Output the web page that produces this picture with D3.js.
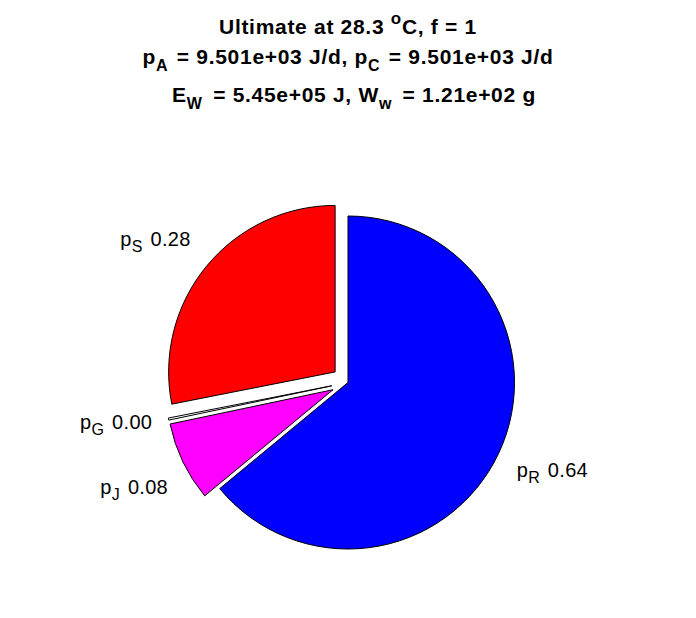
<!DOCTYPE html>
<html>
<head>
<meta charset="utf-8">
<script src="https://cdn.jsdelivr.net/npm/d3@7"></script>
<style>
  html, body { margin: 0; padding: 0; background: #fff; }
  svg { display: block; font-family: "Liberation Sans", Arial, Helvetica, sans-serif; }
</style>
</head>
<body>
<svg id="chart" width="696" height="618"></svg>
<script>
// ---- data ----
const sliceNames = ["R", "J", "G", "S"];
const sliceValues = [0.64, 0.077, 0.002, 0.281];
const sliceColors = ["#0000ff", "#ff00ff", "#ffffff", "#ff0000"];
const sliceExplode = [0, 1, 1, 1];
const titleTemp = "28.3";
const titleF = "1";
const pA = "9.501e+03";
const pC = "9.501e+03";
const EW = "5.45e+05";
const Ww = "1.21e+02";

// ---- layout ----
const W = 696, H = 618;
const cx = 348, cy = 382.5, R = 166.5;
const svg = d3.select("#chart");

// title
const title = svg.append("g").attr("font-weight", "bold").attr("font-size", 21)
  .attr("letter-spacing", 0.7)
  .attr("text-anchor", "middle").attr("fill", "#000");
const subFs = 16;

const t1 = title.append("text").attr("x", cx).attr("y", 34);
t1.append("tspan").text(`Ultimate at ${titleTemp} `);
t1.append("tspan").attr("font-size", 17).attr("dy", -10).text("o");
t1.append("tspan").attr("dy", 10).text(`C, f = ${titleF}`);

const t2 = title.append("text").attr("x", cx).attr("y", 64);
t2.append("tspan").text("p");
t2.append("tspan").attr("font-size", subFs).attr("dy", 7).text("A");
t2.append("tspan").attr("dy", -7).attr("dx", 2).text(` = ${pA} J/d, p`);
t2.append("tspan").attr("font-size", subFs).attr("dy", 7).text("C");
t2.append("tspan").attr("dy", -7).attr("dx", 2).text(` = ${pC} J/d`);

const t3 = title.append("text").attr("x", cx + 6).attr("y", 102);
t3.append("tspan").text("E");
t3.append("tspan").attr("font-size", subFs).attr("dy", 7).text("W");
t3.append("tspan").attr("dy", -7).attr("dx", 4).text(` = ${EW} J, W`);
t3.append("tspan").attr("font-size", subFs).attr("dy", 7).text("w");
t3.append("tspan").attr("dy", -7).attr("dx", 4).text(` = ${Ww} g`);

// pie
const pie = d3.pie().sort(null).value(d => d.v).startAngle(0).endAngle(2 * Math.PI);
const data = sliceNames.map((n, i) => ({ n, v: sliceValues[i], c: sliceColors[i], e: sliceExplode[i] }));
const arcs = pie(data);
const arc = d3.arc().innerRadius(0).outerRadius(R);

const g = svg.append("g").attr("transform", `translate(${cx},${cy})`);
const labelNudge = { R: 0, J: 8, G: -4, S: 0 };
const labelGap = { R: 3, J: 0, G: 0, S: 3 };

arcs.forEach(a => {
  const mid = (a.startAngle + a.endAngle) / 2;
  const sx = Math.sin(mid), cyv = Math.cos(mid);
  const off = a.data.e ? 0.1 * R : 0;
  const ox = off * sx, oy = -off * cyv;
  g.append("path")
    .attr("d", arc(a))
    .attr("transform", `translate(${ox},${oy})`)
    .attr("fill", a.data.c)
    .attr("stroke", "#000")
    .attr("stroke-width", 1)
    .attr("stroke-linejoin", "miter");

  // label
  const px = ox + 1.1 * R * sx;
  const py = oy - 1.1 * R * cyv;
  const left = sx < 0;
  const lx = px + (left ? -labelGap[a.data.n] : labelGap[a.data.n]);
  const ly = py + 6 - 24 * cyv + labelNudge[a.data.n];
  const t = g.append("text")
    .attr("x", lx).attr("y", ly)
    .attr("font-size", 20)
    .attr("letter-spacing", 0.3)
    .attr("text-anchor", left ? "end" : "start")
    .attr("fill", "#000");
  t.append("tspan").text("p");
  t.append("tspan").attr("font-size", 16).attr("dy", 6).text(a.data.n);
  t.append("tspan").attr("dy", -6).attr("dx", 2).text(" " + a.data.v.toFixed(2));
});
</script>
</body>
</html>
